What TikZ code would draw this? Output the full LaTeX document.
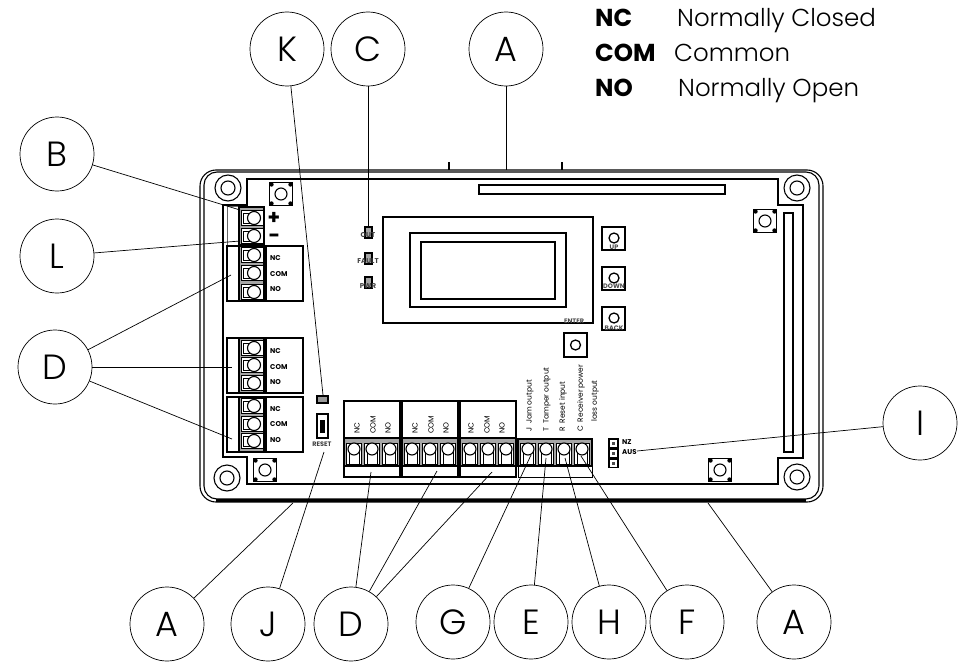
\documentclass[tikz,border=0pt]{standalone}
\usepackage{fontspec}
\setmainfont{Poppins}
\newfontfamily\lightfont{Poppins Light}
\tikzset{
  callout/.style={circle, draw, line width=0.7pt, minimum size=74pt, inner sep=0pt, font=\fontsize{35}{35}\selectfont\lightfont},
  leader/.style={line width=0.7pt},
  board/.style={line width=1.5pt},
  legendkey/.style={anchor=base west, inner sep=0pt, font=\fontsize{24.5}{24.5}\selectfont\bfseries},
  legendtext/.style={anchor=base west, inner sep=0pt, font=\fontsize{24.5}{24.5}\selectfont\lightfont},
  tiny/.style={inner sep=0pt, font=\fontsize{7}{7}\selectfont\bfseries},
  sidetext/.style={inner sep=0pt, rotate=90, anchor=west, font=\fontsize{7.5}{7.5}\selectfont}
}
\begin{document}
\begin{tikzpicture}[x=1pt,y=-1pt]
  \useasboundingbox (0,0) rectangle (963,661);

  % enclosure and board outline
  \draw[line width=1.1pt, rounded corners=16pt] (200,170) rectangle (823,502);
  \draw[line width=1.1pt, rounded corners=13pt] (204,172) rectangle (819,499);
  \draw[line width=2.2pt] (216,500.5) -- (806,500.5);
  \draw[line width=1.2pt] (449,162) -- (449,170) (562,162) -- (562,170);
  \draw[board] (247,179) -- (778,179) -- (778,205) -- (803,205) -- (803,458) -- (778,458)
     -- (778,484) -- (247,484) -- (247,457) -- (223,457) -- (223,205) -- (247,205) -- cycle;
  \foreach \x/\y in {228/188, 797/188, 797/477, 227/478} {
    \draw[line width=1.1pt] (\x,\y) circle (13pt) (\x,\y) circle (7pt);
  }
  \draw[board] (479,185) rectangle (725,194);
  \draw[board] (784,213) rectangle (793,452);

  % corner buttons
  \foreach \x/\y in {281/194, 765/221, 720/470, 265/470} {
    \draw[line width=1.8pt, fill=white] (\x-11.5,\y-11.5) rectangle (\x+11.5,\y+11.5);
    \draw[line width=1.1pt] (\x,\y) circle (6pt);
    \foreach \i/\j in {-1/-1, 1/-1, -1/1, 1/1} { \fill (\x+\i*9.5,\y+\j*9.5) circle (2.2pt); }
  }

  % display
  \draw[board] (383,217) rectangle (593,323);
  \draw[board] (410,233) rectangle (566,307);
  \draw[board] (421,242) rectangle (555,299);

  % keys
  \foreach \y in {238, 278, 318} {
    \draw[board] (602,\y-11) rectangle (625,\y+12);
    \draw[line width=1.3pt] (614,\y) circle (5pt);
  }
  \draw[board] (564,333) rectangle (587,357);
  \draw[line width=1.3pt] (575.5,345) circle (5pt);
  \node[tiny, font=\fontsize{6.5}{6.5}\selectfont\bfseries, text=black!70] (keyup) at (614,247) {UP};
  \node[tiny, font=\fontsize{6.5}{6.5}\selectfont\bfseries, text=black!70] (keydown) at (614,286) {DOWN};
  \node[tiny, font=\fontsize{6.5}{6.5}\selectfont\bfseries, text=black!70] (keyback) at (614,328) {BACK};
  \node[tiny, font=\fontsize{6.5}{6.5}\selectfont\bfseries, text=black!70] (keyenter) at (574,321) {ENTER};

  % status leds
  \foreach \y in {227, 253, 277} {
    \draw[line width=1.1pt, fill=black!35] (365,\y) rectangle (372,\y+11);
  }
  \node[tiny, text=black!75] (ledout) at (368,235) {OUT};
  \node[tiny, text=black!75] (ledfault) at (368,261) {FAULT};
  \node[tiny, text=black!75] (ledpwr) at (368,286) {PWR};

  % left terminals
  \draw[line width=0.9pt, draw=black!60] (227,206) rectangle (239,245);
  \draw[board] (227,246) rectangle (239,301);
  \draw[board] (227,338) rectangle (239,393);
  \draw[board] (227,397) rectangle (239,452);
  \draw[board] (266,246) rectangle (303,301);
  \draw[board] (266,338) rectangle (303,393);
  \draw[board] (266,397) rectangle (303,452);
  \draw[board, fill=black!35] (239,207) rectangle (264,245);
  \draw[board, fill=black!35] (239,246) rectangle (264,301);
  \draw[board, fill=black!35] (239,338) rectangle (264,393);
  \draw[board, fill=black!35] (239,397) rectangle (264,452);
  \foreach \y in {218, 236, 255, 273, 292, 348, 365, 383, 406, 424, 441} {
    \draw[line width=1pt, fill=white] (241,\y-7.5) rectangle (263,\y+7.5);
    \draw[line width=1pt] (243,\y-5) rectangle (252,\y+5);
    \draw[line width=1.1pt, fill=white] (254,\y) circle (6.5pt);
  }
  \node[inner sep=0pt, font=\fontsize{20}{20}\selectfont\bfseries] (plus) at (274,218) {+};
  \node[inner sep=0pt, font=\fontsize{20}{20}\selectfont\bfseries] (minus) at (274,238) {\textminus};
  \node[tiny, anchor=west] (nca) at (270,258) {NC};
  \node[tiny, anchor=west] (coma) at (270,274) {COM};
  \node[tiny, anchor=west] (noa) at (270,289) {NO};
  \node[tiny, anchor=west] (ncb) at (270,351) {NC};
  \node[tiny, anchor=west] (comb) at (270,367) {COM};
  \node[tiny, anchor=west] (nob) at (270,382) {NO};
  \node[tiny, anchor=west] (ncc) at (270,409) {NC};
  \node[tiny, anchor=west] (comc) at (270,424) {COM};
  \node[tiny, anchor=west] (noc) at (270,440) {NO};

  % reset switch
  \draw[line width=1.3pt, fill=black!40] (317,396) rectangle (328,403);
  \draw[line width=1.3pt] (317,414) rectangle (328,438);
  \fill (320,420) rectangle (325,433);
  \node[tiny, text=black!75, font=\fontsize{6.5}{6.5}\selectfont\bfseries] (resetlabel) at (322,444) {RESET};

  % bottom terminals
  \foreach \a/\b in {344/400, 402/458, 460/516} {
    \draw[board] (\a,401) rectangle (\b,438);
    \draw[board, fill=black!35] (\a,438) rectangle (\b,466);
    \draw[board] (\a,466) rectangle (\b,477);
  }
  \draw[board, fill=black!35] (518,439) rectangle (592,466);
  \draw[line width=0.8pt] (518,466) rectangle (592,477);
  \foreach \c in {354, 372, 390, 412, 430, 448, 470, 488, 506, 528, 546, 564, 582} {
    \draw[line width=1pt, fill=white] (\c-7.5,443) rectangle (\c+7.5,464);
    \draw[line width=1pt] (\c-5,450) rectangle (\c+5,464);
    \draw[line width=1.1pt, fill=white] (\c,449) circle (6pt);
  }
  \node[sidetext] (ncd) at (357,434) {NC};
  \node[sidetext] (comd) at (373,434) {COM};
  \node[sidetext] (nod) at (388,434) {NO};
  \node[sidetext] (nce) at (415,434) {NC};
  \node[sidetext] (come) at (431,434) {COM};
  \node[sidetext] (noe) at (446,434) {NO};
  \node[sidetext] (ncf) at (471,434) {NC};
  \node[sidetext] (comf) at (487,434) {COM};
  \node[sidetext] (nof) at (502,434) {NO};
  \node[sidetext] (jamlabel) at (530,432) {J\ \ Jam output};
  \node[sidetext] (tamperlabel) at (547,432) {T\ \ Tamper output};
  \node[sidetext] (resetinlabel) at (563,432) {R\ \ Reset input};
  \node[sidetext] (receiverlabel) at (581,432) {C\ \ Receiver power};
  \node[sidetext] (losslabel) at (595,422) {loss output};

  % jumper
  \foreach \y in {439, 449, 459} {
    \draw[line width=1.2pt] (609,\y) rectangle (618,\y+8.5);
    \fill[black!70] (612,\y+2.5) rectangle (615,\y+6);
  }
  \node[tiny, anchor=west] (nzlabel) at (622,442) {NZ};
  \node[tiny, anchor=west] (auslabel) at (622,452) {AUS};

  % legend
  \node[legendkey] (keync) at (595,27) {NC};
  \node[legendkey] (keycom) at (595,62) {COM};
  \node[legendkey] (keyno) at (595,96) {NO};
  \node[legendtext] (textnc) at (677,27) {Normally Closed};
  \node[legendtext] (textcom) at (674,62) {Common};
  \node[legendtext] (textno) at (678,96) {Normally Open};

  % callouts
  \node[callout] (calloutK) at (287,49) {K};
  \node[callout] (calloutC) at (368,49) {C};
  \node[callout] (calloutAtop) at (506,49) {A};
  \node[callout] (calloutB) at (57,154) {B};
  \node[callout] (calloutL) at (57,256) {L};
  \node[callout] (calloutD) at (55,367) {D};
  \node[callout] (calloutI) at (920,423) {I};
  \node[callout] (calloutAleft) at (167,624) {A};
  \node[callout] (calloutJ) at (268,624) {J};
  \node[callout] (calloutDbot) at (351,624) {D};
  \node[callout] (calloutG) at (453,622) {G};
  \node[callout] (calloutE) at (531,622) {E};
  \node[callout] (calloutH) at (609,622) {H};
  \node[callout] (calloutF) at (687,622) {F};
  \node[callout] (calloutAright) at (794,622) {A};

  \coordinate (tipK) at (323,395);
  \coordinate (tipC) at (368,227);
  \coordinate (tipAtop) at (506,170);
  \coordinate (tipB) at (240,210);
  \coordinate (tipL) at (240,241);
  \coordinate (tipDa) at (231,275);
  \coordinate (tipDb) at (232,367);
  \coordinate (tipDc) at (232,439);
  \coordinate (tipI) at (637,451);
  \coordinate (tipAleft) at (293,503);
  \coordinate (tipJ) at (324,452);
  \coordinate (tipDd) at (371,472);
  \coordinate (tipDe) at (437,471);
  \coordinate (tipDf) at (492,472);
  \coordinate (tipG) at (531,455);
  \coordinate (tipE) at (546,458);
  \coordinate (tipH) at (565,458);
  \coordinate (tipF) at (581,456);
  \coordinate (tipAright) at (708,503);

  \draw[leader] (calloutK) -- (tipK);
  \draw[leader] (calloutC) -- (tipC);
  \draw[leader] (calloutAtop) -- (tipAtop);
  \draw[leader] (calloutB) -- (tipB);
  \draw[leader] (calloutL) -- (tipL);
  \draw[leader] (calloutD) -- (tipDa);
  \draw[leader] (calloutD) -- (tipDb);
  \draw[leader] (calloutD) -- (tipDc);
  \draw[leader] (calloutI) -- (tipI);
  \draw[leader] (calloutAleft) -- (tipAleft);
  \draw[leader] (calloutJ) -- (tipJ);
  \draw[leader] (calloutDbot) -- (tipDd);
  \draw[leader] (calloutDbot) -- (tipDe);
  \draw[leader] (calloutDbot) -- (tipDf);
  \draw[leader] (calloutG) -- (tipG);
  \draw[leader] (calloutE) -- (tipE);
  \draw[leader] (calloutH) -- (tipH);
  \draw[leader] (calloutF) -- (tipF);
  \draw[leader] (calloutAright) -- (tipAright);
\end{tikzpicture}
\end{document}
